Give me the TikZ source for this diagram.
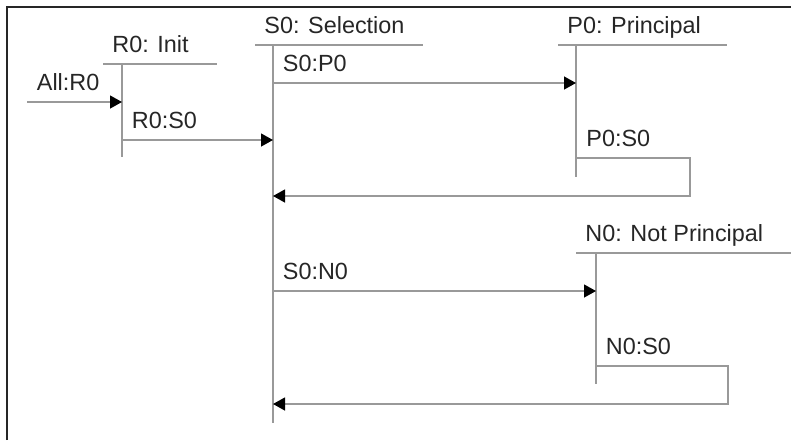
\documentclass[tikz,border=0pt]{standalone}
\usepackage{fontspec}
\setmainfont{Liberation Sans}
\usepackage{tikz}
\usetikzlibrary{positioning, arrows.meta}

\begin{document}
\begin{tikzpicture}[x=0.5pt, y=-0.5pt,
        every node/.style={font=\fontsize{11.7}{14}\selectfont, text=black!85},
        head/.style={inner sep=0pt, text depth=0pt},
        lbl/.style={inner sep=0pt, text depth=0pt},
        life/.style={draw=black!40, line width=0.65pt},
        msg/.style={life, -{Triangle[length=6pt, width=6.5pt, color=black, fill=black]}},
        frame/.style={draw=black!85, line width=1pt}]
      \useasboundingbox (0,0) rectangle (791,440);
      \draw[frame] (7,440) -- (7,7) -- (791,7);

      % lifelines and heads
      \coordinate (r0) at (122,64);   \coordinate (r0end) at (122,157);
      \coordinate (s0) at (273,45);   \coordinate (s0end) at (273,423);
      \coordinate (p0) at (576,45);   \coordinate (p0end) at (576,177);
      \coordinate (n0) at (596,253);  \coordinate (n0end) at (596,384);
      \coordinate (r0l) at (103,64);  \coordinate (r0r) at (217,64);
      \coordinate (s0l) at (255,45);  \coordinate (s0r) at (423,45);
      \coordinate (p0l) at (558,45);  \coordinate (p0r) at (727,45);
      \coordinate (n0l) at (576,253); \coordinate (n0r) at (791,253);

      \node[head, above right=5.5pt and 4.5pt of r0l] (r0head) {R0: Init};
      \node[head, above right=5.5pt and 4.5pt of s0l] (s0head) {S0: Selection};
      \node[head, above right=5.5pt and 4.5pt of p0l] (p0head) {P0: Principal};
      \node[head, above right=5.5pt and 4.5pt of n0l] (n0head) {N0: Not Principal};

      \draw[life](r0l)--(r0r);
      \draw[life](s0l)--(s0r);
      \draw[life](p0l)--(p0r);
      \draw[life](n0l)--(n0r);
      \draw[life](r0)--(r0end);
      \draw[life](s0)--(s0end);
      \draw[life](p0)--(p0end);
      \draw[life](n0)--(n0end);

      % messages
      \coordinate (allr0) at (27,102);
      \coordinate (r0s0) at (122,140);
      \coordinate (s0p0) at (273,83);
      \coordinate (p0s0) at (576,158);  \coordinate (p0turn) at (690,196);
      \coordinate (s0n0) at (273,291);
      \coordinate (n0s0) at (596,366);  \coordinate (n0turn) at (728,404);

      \node[lbl, above right=5.8pt and 4.75pt of allr0] (allr0lbl) {All:R0};
      \node[lbl, above right=5.8pt and 4.75pt of r0s0] (r0s0lbl) {R0:S0};
      \node[lbl, above right=5.8pt and 4.75pt of s0p0] (s0p0lbl) {S0:P0};
      \node[lbl, above right=5.8pt and 5pt of p0s0] (p0s0lbl) {P0:S0};
      \node[lbl, above right=5.8pt and 4.75pt of s0n0] (s0n0lbl) {S0:N0};
      \node[lbl, above right=5.8pt and 4.75pt of n0s0] (n0s0lbl) {N0:S0};

      \draw[msg](allr0)--(r0 |- allr0);
      \draw[msg](r0s0)--(s0 |- r0s0);
      \draw[msg](s0p0)--(p0 |- s0p0);
      \draw[msg](p0s0) -| (p0turn) -- (s0 |- p0turn);
      \draw[msg](s0n0)--(n0 |- s0n0);
      \draw[msg](n0s0) -| (n0turn) -- (s0 |- n0turn);
    \end{tikzpicture}
\end{document}
